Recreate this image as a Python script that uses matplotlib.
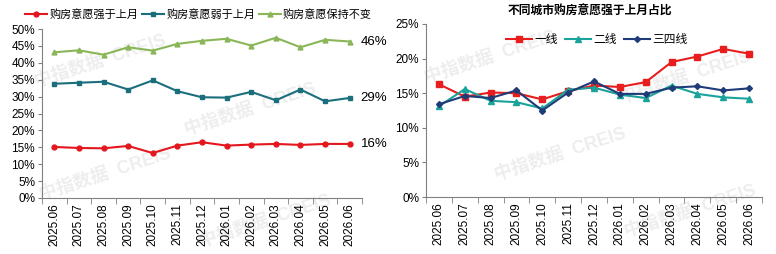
import matplotlib
matplotlib.use("Agg")
import matplotlib.pyplot as plt
import numpy as np

plt.rcParams['font.family'] = ['Liberation Sans', 'Noto Sans CJK SC', 'DejaVu Sans']

months = ["2025.06", "2025.07", "2025.08", "2025.09", "2025.10", "2025.11", "2025.12",
          "2026.01", "2026.02", "2026.03", "2026.04", "2026.05", "2026.06"]

# Left chart (percent)
stronger = [15.1, 14.8, 14.7, 15.4, 13.3, 15.5, 16.5, 15.5, 15.8, 16.0, 15.7, 16.0, 16.0]
weaker = [33.8, 34.1, 34.4, 32.1, 34.8, 31.6, 29.8, 29.7, 31.4, 28.9, 32.1, 28.6, 29.6]
unchanged = [43.1, 43.7, 42.4, 44.6, 43.6, 45.6, 46.5, 47.1, 45.1, 47.4, 44.6, 46.8, 46.3]
left_names = ["购房意愿强于上月", "购房意愿弱于上月", "购房意愿保持不变"]
left_end_labels = ["16%", "29%", "46%"]

# Right chart (percent)
tier1 = [16.3, 14.5, 15.1, 15.0, 14.1, 15.3, 16.1, 15.9, 16.6, 19.5, 20.3, 21.4, 20.7]
tier2 = [13.1, 15.6, 13.9, 13.7, 12.8, 15.5, 15.8, 14.8, 14.3, 16.1, 14.9, 14.4, 14.2]
tier34 = [13.4, 14.6, 14.3, 15.4, 12.5, 15.1, 16.7, 14.9, 14.9, 15.8, 16.0, 15.4, 15.7]
right_names = ["一线", "二线", "三四线"]
right_title = "不同城市购房意愿强于上月占比"

W, H = 776, 254
fig = plt.figure(figsize=(W / 100, H / 100), dpi=100)

def px(x0, y0, x1, y1):
    return [x0 / W, 1 - y1 / H, (x1 - x0) / W, (y1 - y0) / H]

x = np.arange(len(months))
fs = 8.5

def style_axes(ax, ymax, step):
    ax.set_xlim(-0.5, len(months) - 0.5)
    ax.set_ylim(0, ymax)
    ax.set_yticks(np.arange(0, ymax + 0.01, step))
    ax.set_yticklabels([f"{int(v)}%" for v in np.arange(0, ymax + 0.01, step)], fontsize=fs)
    ax.set_xticks(x)
    ax.set_xticklabels(months, rotation=90, fontsize=fs)
    ax.set_xticks(np.arange(-0.5, len(months), 1), minor=True)
    ax.tick_params(axis='x', which='major', length=0, pad=4)
    ax.tick_params(axis='x', which='minor', length=4, color='#808080', direction='out')
    ax.tick_params(axis='y', length=3, color='#808080', pad=2)
    for s in ['top', 'right']:
        ax.spines[s].set_visible(False)
    for s in ['left', 'bottom']:
        ax.spines[s].set_color('#808080')
        ax.spines[s].set_linewidth(0.8)
    ax.set_facecolor('none')

# watermarks (drawn first, faint)
wm = "中指数据  CREIS"
for (wx, wy) in [(100, 62), (250, 110), (105, 175), (265, 222), (490, 58), (560, 155), (685, 78), (690, 212)]:
    fig.text(wx / W, 1 - wy / H, wm, ha='center', va='center', fontsize=13, rotation=18,
             color='#d4d4d4', alpha=0.4, fontweight='bold', zorder=-1)

# Left axes
ax1 = fig.add_axes(px(42, 29, 362, 198))
c_red, c_teal, c_green = '#E4161E', '#1B6F7C', '#8AB657'
l1, = ax1.plot(x, stronger, color=c_red, marker='o', ms=3.5, lw=1.5, label=left_names[0])
l2, = ax1.plot(x, weaker, color=c_teal, marker='s', ms=3.5, lw=1.5, label=left_names[1])
l3, = ax1.plot(x, unchanged, color=c_green, marker='^', ms=3.5, lw=1.5, label=left_names[2])
style_axes(ax1, 50, 5)
for vals, lab in zip([stronger, weaker, unchanged], left_end_labels):
    ax1.annotate(lab, (x[-1], vals[-1]), xytext=(8, 0), textcoords='offset points',
                 va='center', ha='left', fontsize=9.5, annotation_clip=False)
fig.legend(handles=[l1, l2, l3], loc='center left', bbox_to_anchor=(25 / W, 1 - 14 / H),
           ncol=3, frameon=False, fontsize=8, handlelength=2.0, handletextpad=0.2,
           columnspacing=0.3, borderaxespad=0, borderpad=0)

# Right axes
ax2 = fig.add_axes(px(426, 24, 762, 197))
r_red, r_teal, r_navy = '#E81E1E', '#1AA39A', '#1F3C78'
m1, = ax2.plot(x, tier1, color=r_red, marker='s', ms=4, lw=1.5, label=right_names[0])
m2, = ax2.plot(x, tier2, color=r_teal, marker='^', ms=4, lw=1.5, label=right_names[1])
m3, = ax2.plot(x, tier34, color=r_navy, marker='D', ms=3, lw=1.5, label=right_names[2])
style_axes(ax2, 25, 5)
ax2.legend(handles=[m1, m2, m3], loc='center left', bbox_to_anchor=(506 / W, 1 - 40 / H),
           bbox_transform=fig.transFigure, ncol=3, frameon=False, fontsize=fs,
           handlelength=2.2, handletextpad=0.2, columnspacing=0.6, borderaxespad=0, borderpad=0)
fig.text(590 / W, 1 - 12 / H, right_title, ha='center', va='center', fontsize=8.5,
         fontweight='bold')

fig.savefig("out.png", dpi=100)
